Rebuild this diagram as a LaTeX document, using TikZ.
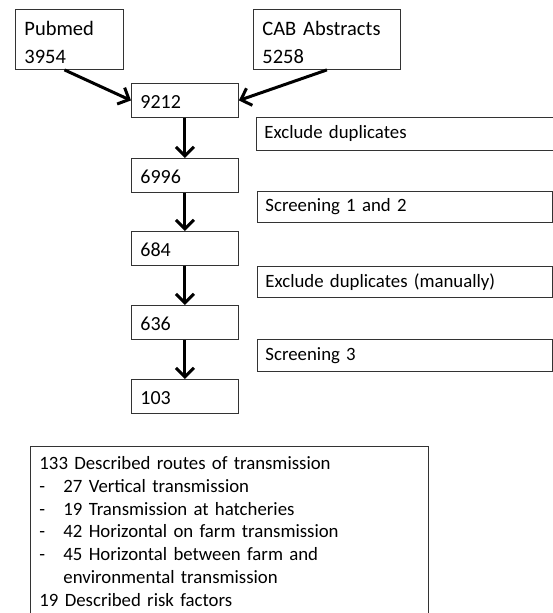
\documentclass[tikz,border=0pt]{standalone}
\usepackage{fontspec}
\setmainfont{Carlito}
\usetikzlibrary{arrows.meta}
\tikzset{
  boxbase/.style={draw=black!80, line width=0.9pt, anchor=north west, align=left,
    inner ysep=0pt, font=\fontsize{18.8}{28}\selectfont},
  srcbox/.style={boxbase, inner xsep=9pt, minimum height=60pt, font=\fontsize{20.5}{28}\selectfont},
  numbox/.style={boxbase, inner xsep=9pt, text width=89pt, minimum height=34pt, font=\fontsize{20}{28}\selectfont},
  stepbox/.style={boxbase, inner xsep=8pt, minimum height=32pt},
  listbox/.style={draw=black!80, line width=0.9pt, anchor=north west, align=left,
    inner xsep=9pt, inner ysep=9pt, text width=380pt, font=\fontsize{18.8}{22.8}\selectfont},
  arr/.style={line width=3pt, -{Straight Barb[length=9pt, width=18pt, line width=3pt]}}
}
\begin{document}
\begin{tikzpicture}[x=1pt,y=-1pt]
\useasboundingbox (0,0) rectangle (553,613);
\clip (0,0) rectangle (553,613);
% sources
\node[srcbox, text width=90pt] (pubmed) at (15,9) {\rule{0pt}{20pt}Pubmed\\3954};
\node[srcbox, text width=129pt] (cab) at (253,9) {\rule{0pt}{20pt}CAB Abstracts\\5258};
% counts
\node[numbox] (n9212) at (131,83) {\rule{0pt}{17pt}9212};
\node[numbox] (n6996) at (131,158) {\rule{0pt}{17pt}6996};
\node[numbox] (n684) at (131,231) {\rule{0pt}{17pt}684};
\node[numbox] (n636) at (131,305) {\rule{0pt}{17pt}636};
\node[numbox] (n103) at (131,379) {\rule{0pt}{17pt}103};
% steps
\node[stepbox, text width=314pt, minimum height=33pt] (s1) at (256,117) {Exclude duplicates};
\node[stepbox, text width=279pt, minimum height=31pt] (s2) at (257,191) {Screening 1 and 2};
\node[stepbox, text width=279pt, minimum height=31pt] (s3) at (257,266) {Exclude duplicates (manually)};
\node[stepbox, text width=279pt, minimum height=32pt] (s4) at (257,339) {Screening 3};
% arrows
\draw[arr] ([xshift=-5pt]pubmed.south) -- (n9212.west);
\draw[arr] (cab.south) -- (n9212.east);
\draw[arr] (n9212.south) -- (n6996.north);
\draw[arr] (n6996.south) -- (n684.north);
\draw[arr] (n684.south) -- (n636.north);
\draw[arr] (n636.south) -- (n103.north);
% result list
\node[listbox] (routes) at (30,446) {\rule{0pt}{14pt}133 Described routes of transmission\\
\makebox[24pt][l]{-}27 Vertical transmission\\
\makebox[24pt][l]{-}19 Transmission at hatcheries\\
\makebox[24pt][l]{-}42 Horizontal on farm transmission\\
\makebox[24pt][l]{-}45 Horizontal between farm and\\
\hspace*{24pt}environmental transmission\\
19 Described risk factors\rule[-6pt]{0pt}{6pt}};
\end{tikzpicture}
\end{document}
